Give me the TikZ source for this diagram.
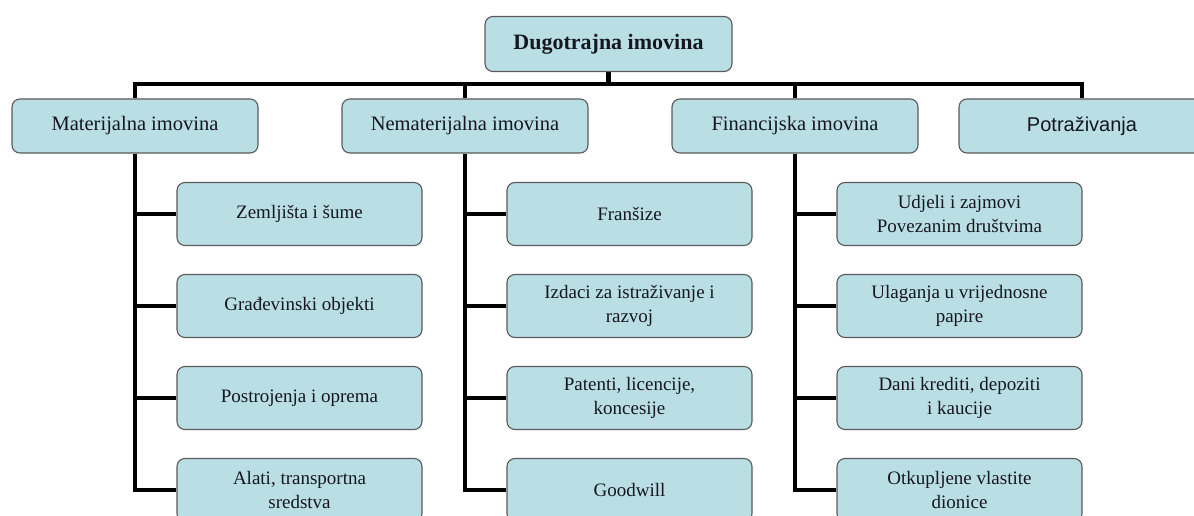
\documentclass[tikz,border=0pt]{standalone}
\usepackage{fontspec}
\setmainfont{Liberation Serif}
\newfontfamily\arialfont{Liberation Sans}
\usetikzlibrary{backgrounds}
\definecolor{boxfill}{HTML}{B9DFE4}
\definecolor{boxline}{HTML}{5A5A5A}
\definecolor{txt}{HTML}{161620}
\tikzset{
  box/.style={draw=boxline, line width=1.1pt, fill=boxfill, rounded corners=8pt,
    align=center, text=txt, inner sep=0pt},
  topbox/.style={box, minimum width=247pt, minimum height=55pt, font=\fontsize{22}{26}\selectfont\bfseries},
  lvbox/.style={box, minimum width=246pt, minimum height=54pt, font=\fontsize{20.5}{24}\selectfont},
  childbox/.style={box, minimum width=245pt, minimum height=63pt, font=\fontsize{19}{24}\selectfont},
  conn/.style={draw=black, line width=4.5pt, line join=miter}
}
\begin{document}
\begin{tikzpicture}[x=1pt,y=1pt]
\useasboundingbox (0,0) rectangle (1194,-516);
\clip (0,0) rectangle (1194,-516);
% top
\node[topbox] (top) at (608.5,-44) {Dugotrajna imovina};
% level 2
\node[lvbox] (m) at (135,-126) {Materijalna imovina};
\node[lvbox] (n) at (465,-126) {Nematerijalna imovina};
\node[lvbox] (f) at (795,-126) {Financijska imovina};
\node[lvbox, font=\fontsize{20}{24}\arialfont] (p) at (1082,-126) {Potraživanja};
\coordinate (bar) at (0,-84);
% children column 1
\node[childbox] (m1) at (299.5,-214) {Zemljišta i šume};
\node[childbox] (m2) at (299.5,-306) {Građevinski objekti};
\node[childbox] (m3) at (299.5,-398) {Postrojenja i oprema};
\node[childbox] (m4) at (299.5,-490) {Alati, transportna\\sredstva};
% children column 2
\node[childbox] (n1) at (629.5,-214) {Franšize};
\node[childbox] (n2) at (629.5,-306) {Izdaci za istraživanje i\\razvoj};
\node[childbox] (n3) at (629.5,-398) {Patenti, licencije,\\koncesije};
\node[childbox] (n4) at (629.5,-490) {Goodwill};
% children column 3
\node[childbox] (f1) at (959.5,-214) {Udjeli i zajmovi\\Povezanim društvima};
\node[childbox] (f2) at (959.5,-306) {Ulaganja u vrijednosne\\papire};
\node[childbox] (f3) at (959.5,-398) {Dani krediti, depoziti\\i kaucije};
\node[childbox] (f4) at (959.5,-490) {Otkupljene vlastite\\dionice};
\begin{scope}[on background layer]
\clip (0,0) rectangle (1194,-516);
\fill[white] (0,0) rectangle (1194,-516);
\draw[conn] (top.south) -- (top.south |- bar);
\draw[conn] (m.north) -- (m.north |- bar) -- (p.north |- bar) -- (p.north);
\draw[conn] (n.north) -- (n.north |- bar);
\draw[conn] (f.north) -- (f.north |- bar);
\foreach \pn in {m,n,f}{
  \draw[conn] (\pn.south) |- (\pn4.west);
  \foreach \i in {1,2,3}{
    \draw[conn] (\pn.south |- \pn\i.west) -- (\pn\i.west);
  }
}
\end{scope}
\end{tikzpicture}
\end{document}
